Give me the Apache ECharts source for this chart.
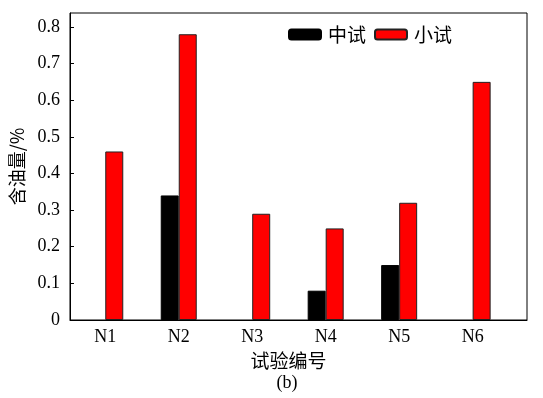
<!DOCTYPE html>
<html>
<head>
<meta charset="utf-8">
<script src="https://cdn.jsdelivr.net/npm/echarts@6/dist/echarts.min.js"></script>
<style>
  html, body { margin: 0; padding: 0; background: #fff; }
  #chart { width: 543px; height: 398px; }
</style>
</head>
<body>
<div id="chart"></div>
<script>
// 试验编号
var categories = ['N1', 'N2', 'N3', 'N4', 'N5', 'N6'];
// 含油量/%，无数据用 null
var zhongshi = [null, 0.34, null, 0.08, 0.15, null];
var xiaoshi = [0.46, 0.78, 0.29, 0.25, 0.32, 0.65];
var yTicks = [0, 0.1, 0.2, 0.3, 0.4, 0.5, 0.6, 0.7, 0.8];

var serif = '"Liberation Serif", "Times New Roman", serif';
var cjk = '"Noto Sans CJK SC", sans-serif';

// 类别放在数值轴 1..6 上，便于控制左右留白
var xPos = categories.map(function (c, i) { return i + 1; });
function pairs(arr) {
  return arr.map(function (v, i) { return [xPos[i], v]; });
}

var chart = echarts.init(document.getElementById('chart'));
chart.setOption({
  animation: false,
  backgroundColor: '#fff',
  grid: {
    left: 66, right: 16, top: 13, bottom: 78,
    show: true, borderColor: '#000', borderWidth: 1,
    containLabel: false
  },
  legend: {
    top: 20, left: 283,
    itemWidth: 32, itemHeight: 10, itemGap: 8,
    textStyle: { fontFamily: cjk, fontSize: 19, color: '#000', padding: [0, 0, 0, 2] },
    data: ['中试', '小试']
  },
  title: {
    text: '(b)', left: 282, top: 369,
    textAlign: 'center',
    textStyle: { fontFamily: serif, fontSize: 18, fontWeight: 'normal', color: '#000' }
  },
  xAxis: {
    type: 'value',
    min: 0.52, max: 6.74,
    name: '试验编号',
    nameLocation: 'middle',
    nameGap: 30,
    nameTextStyle: { fontFamily: cjk, fontSize: 19, color: '#000', padding: [0, 20, 0, 0] },
    splitLine: { show: false },
    axisLine: { lineStyle: { color: '#000', width: 1 } },
    axisTick: { show: false },
    axisLabel: {
      customValues: xPos,
      color: '#000', fontFamily: serif, fontSize: 18, margin: 8,
      formatter: function (v) { return categories[Math.round(v) - 1] || ''; }
    }
  },
  yAxis: {
    type: 'value',
    min: 0, max: 0.838, interval: 0.1,
    name: '含油量/%',
    nameLocation: 'middle',
    nameGap: 44,
    nameTextStyle: { fontFamily: cjk, fontSize: 18, color: '#000' },
    splitLine: { show: false },
    axisLine: { show: true, lineStyle: { color: '#000', width: 1 } },
    axisTick: { inside: true, length: 4, lineStyle: { color: '#000' }, customValues: yTicks },
    axisLabel: {
      customValues: yTicks,
      color: '#000', fontFamily: serif, fontSize: 18, margin: 10,
      formatter: function (v) { return String(Math.round(v * 10) / 10); }
    }
  },
  series: [
    {
      name: '中试', type: 'bar',
      data: pairs(zhongshi),
      barWidth: 18, barGap: '0%',
      itemStyle: { color: '#000', borderColor: '#000', borderWidth: 1 }
    },
    {
      name: '小试', type: 'bar',
      data: pairs(xiaoshi),
      barWidth: 18, barGap: '0%',
      itemStyle: { color: '#ff0000', borderColor: '#222', borderWidth: 1 }
    }
  ]
});
</script>
</body>
</html>
